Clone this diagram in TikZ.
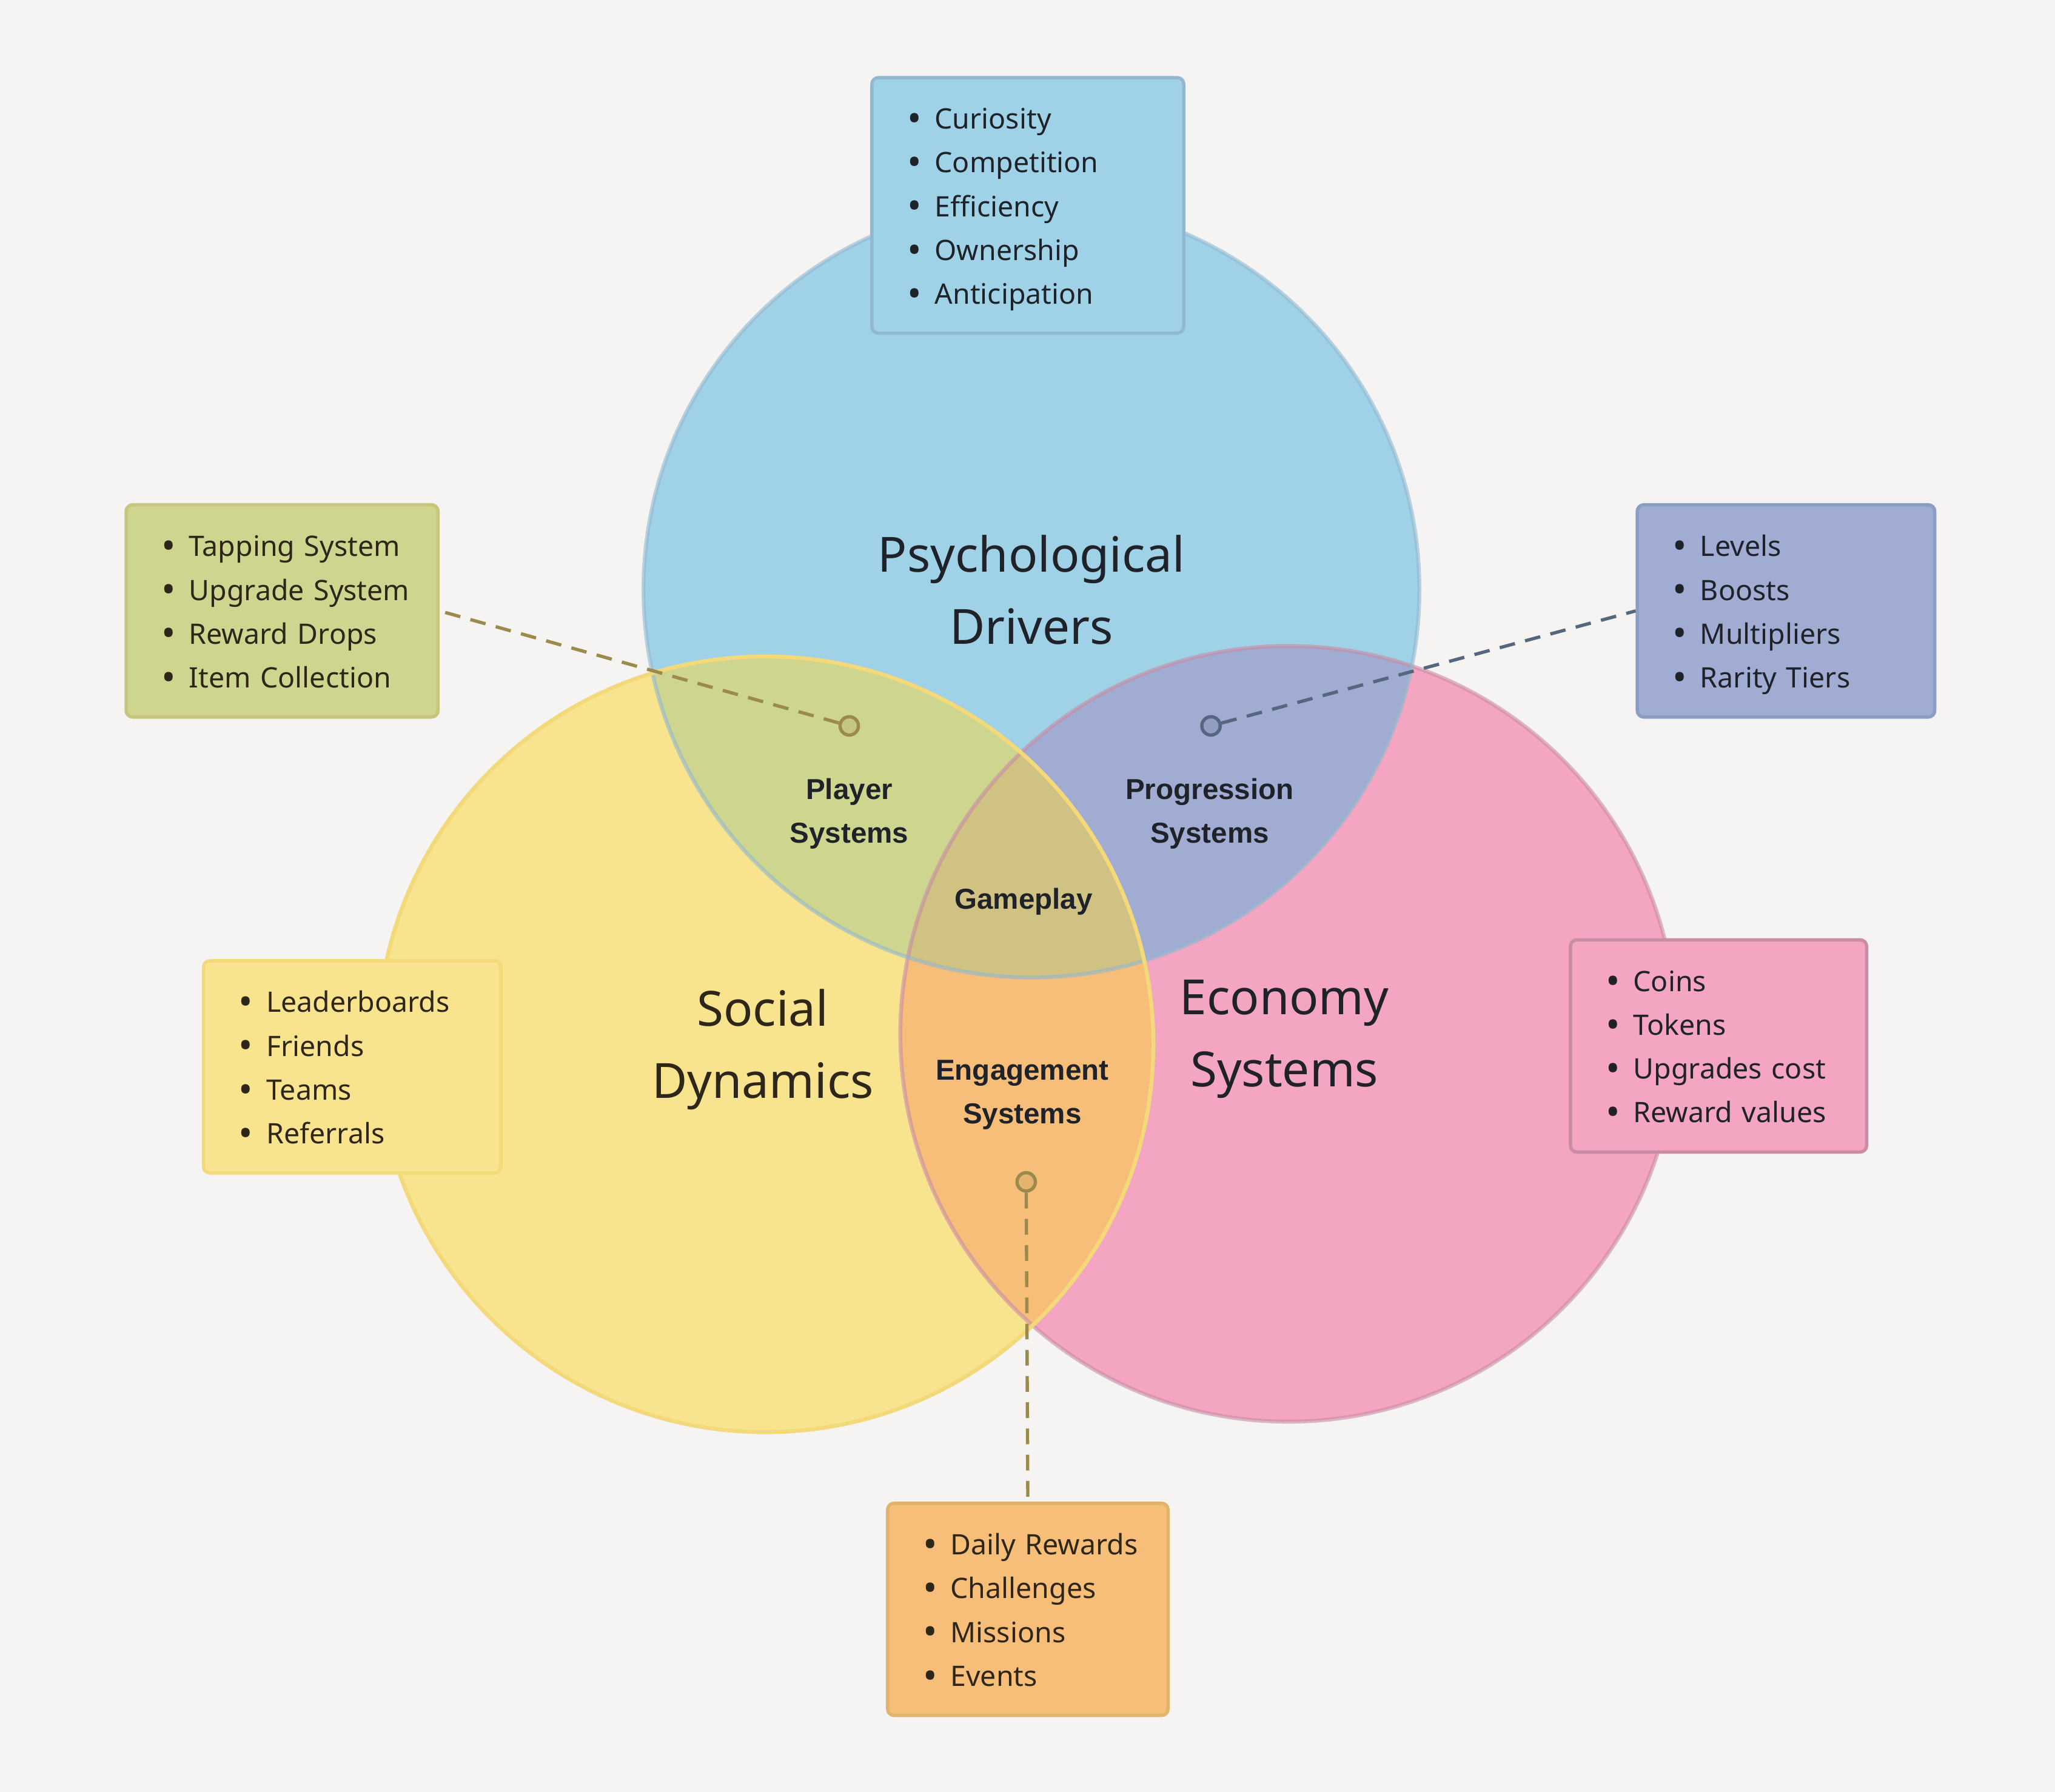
\documentclass[tikz,border=0pt]{standalone}
\usepackage{fontspec}
\setmainfont{Noto Sans}[AutoFakeBold=2.2]
\newfontfamily\tagfont{Liberation Sans}
\usepackage{tikz}
\usetikzlibrary{positioning}

\definecolor{bgcol}{HTML}{F5F4F2}
\definecolor{psyfill}{HTML}{A0D2E7}
\definecolor{psyline}{HTML}{91B8D0}
\definecolor{socfill}{HTML}{F8E48F}
\definecolor{socline}{HTML}{F4D97A}
\definecolor{ecofill}{HTML}{F4A5C2}
\definecolor{ecoline}{HTML}{C98CA5}
\definecolor{plyfill}{HTML}{CED58E}
\definecolor{plyline}{HTML}{C7C67C}
\definecolor{prgfill}{HTML}{A0ACD2}
\definecolor{prgline}{HTML}{8A9DC4}
\definecolor{engfill}{HTML}{F6BE78}
\definecolor{engline}{HTML}{E2B46B}
\definecolor{gamefill}{HTML}{CFC283}
\definecolor{olivemark}{HTML}{9C8A4C}
\definecolor{slatemark}{HTML}{55667F}
\definecolor{inkdark}{HTML}{1F2329}
\definecolor{inkbrown}{HTML}{2E2619}

\newcommand{\itm}[1]{\mbox{\rule[-6pt]{0pt}{29pt}\makebox[21pt][l]{\raisebox{-2.2pt}{\fontsize{29}{0}\selectfont\textbullet}}#1}}

\begin{document}
\begin{tikzpicture}[x=1pt,y=-1pt,
    listbox/.style={draw, line width=2.5pt, rounded corners=5pt, align=left, inner xsep=27pt,
                    anchor=north west, font=\fontsize{21.5}{33.4}\selectfont},
    biglabel/.style={align=center, font=\fontsize{37}{55}\selectfont, text=inkdark},
    smalllabel/.style={align=center, font=\tagfont\bfseries\fontsize{22}{33.5}\selectfont, text=inkdark},
    ringdot/.style={circle, minimum size=14pt, inner sep=0pt, line width=2.5pt},
    leader/.style={dash pattern=on 12pt off 8pt, line width=2.5pt}]
\fill[bgcol] (0,0) rectangle (1568,1367.6);
\useasboundingbox (0,0) rectangle (1568,1367.6);

\coordinate (psyc) at (787,450);
\coordinate (socc) at (584,797);
\coordinate (ecoc) at (983,789);

% the three sets
\fill[psyfill] (psyc) circle (296pt);
\fill[socfill] (socc) circle (296pt);
\fill[ecofill] (ecoc) circle (296pt);
\begin{scope}
\clip (psyc) circle (296pt);
\fill[plyfill] (socc) circle (296pt);
\fill[prgfill] (ecoc) circle (296pt);
\end{scope}
\begin{scope}
\clip (socc) circle (296pt);
\fill[engfill] (ecoc) circle (296pt);
\clip (psyc) circle (296pt);
\fill[gamefill] (ecoc) circle (296pt);
\end{scope}
\draw[ecoline, line width=3pt, draw opacity=.6] (ecoc) circle (296pt);
\draw[psyline, line width=3pt, draw opacity=.6] (psyc) circle (296pt);
\draw[socline, line width=3pt] (socc) circle (296pt);

\node[biglabel] (psylab) at (787,450) {Psychological\\Drivers};
\node[biglabel, text=inkbrown] (soclab) at (582,801) {Social\\Dynamics};
\node[biglabel] (ecolab) at (980,793) {Economy\\Systems};
\node[smalllabel] (plylab) at (648,621) {Player\\Systems};
\node[smalllabel] (prglab) at (923,621) {Progression\\Systems};
\node[smalllabel] (gamelab) at (781,688) {Gameplay};
\node[smalllabel] (englab) at (780,835.5) {Engagement\\Systems};

% lists
\node[listbox, draw=psyline, fill=psyfill, text=inkdark, text width=184pt, minimum height=195pt] (psybox) at (664,58)
  {\itm{Curiosity}\\\itm{Competition}\\\itm{Efficiency}\\\itm{Ownership}\\\itm{Anticipation}};
\node[listbox, draw=plyline, fill=plyfill, text=inkbrown, text width=184pt, minimum height=162pt] (plybox) at (95,384)
  {\itm{Tapping System}\\\itm{Upgrade System}\\\itm{Reward Drops}\\\itm{Item Collection}};
\node[listbox, draw=prgline, fill=prgfill, text=inkdark, text width=173pt, minimum height=162pt] (prgbox) at (1248,384)
  {\itm{Levels}\\\itm{Boosts}\\\itm{Multipliers}\\\itm{Rarity Tiers}};
\node[listbox, draw=socline, fill=socfill, text=inkbrown, text width=173pt, minimum height=162pt] (socbox) at (154,732)
  {\itm{Leaderboards}\\\itm{Friends}\\\itm{Teams}\\\itm{Referrals}};
\node[listbox, draw=ecoline, fill=ecofill, text=inkdark, text width=172pt, minimum height=162pt] (ecobox) at (1197,716)
  {\itm{Coins}\\\itm{Tokens}\\\itm{Upgrades cost}\\\itm{Reward values}};
\node[listbox, draw=engline, fill=engfill, text=inkbrown, text width=160pt, minimum height=162pt] (engbox) at (676,1146)
  {\itm{Daily Rewards}\\\itm{Challenges}\\\itm{Missions}\\\itm{Events}};

% markers and leaders
\node[ringdot, draw=olivemark, fill=olivemark!20!plyfill] (plymk) at (648,554) {};
\node[ringdot, draw=slatemark, fill=slatemark!20!prgfill] (prgmk) at (924,554) {};
\node[ringdot, draw=olivemark, fill=olivemark!20!engfill] (engmk) at (783,902) {};
\draw[leader, olivemark] (plymk) -- (plybox.east);
\draw[leader, slatemark] (prgmk) -- (prgbox.west);
\draw[leader, olivemark] (engmk) -- (engbox.north);
\end{tikzpicture}
\end{document}
